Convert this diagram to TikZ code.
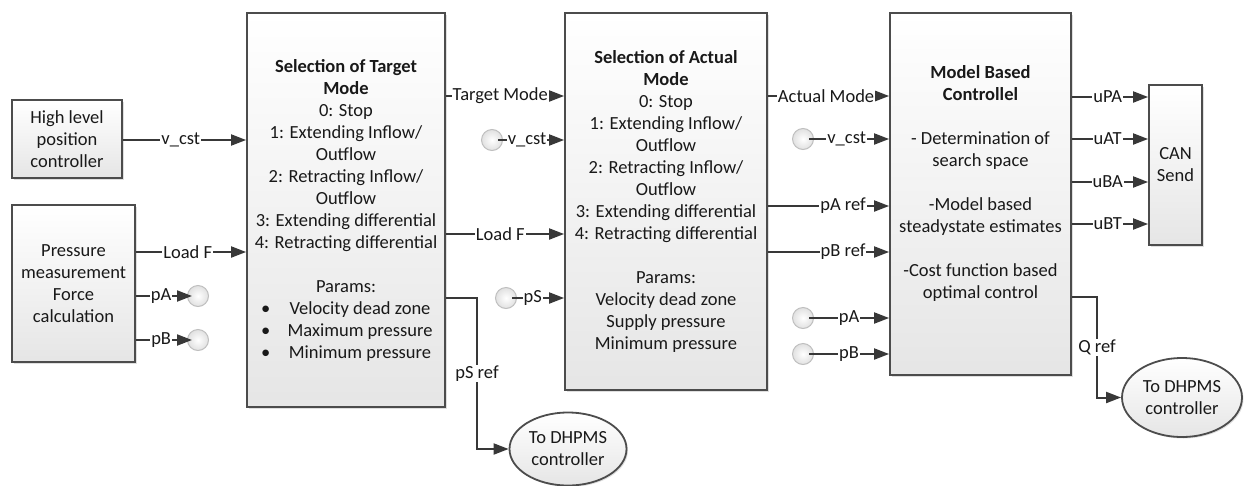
\documentclass[tikz,border=0pt]{standalone}
\usepackage{fontspec}
\setmainfont{Carlito}
\usetikzlibrary{arrows.meta,shapes.geometric,shadows}

% one bullet line of a parameter list: bullet flush left, text centred
\newcommand\bulletline[1]{\makebox[170pt][l]{\makebox[28pt][l]{\textbullet}\makebox[142pt]{#1}}}

\begin{document}
\begin{tikzpicture}[x=1pt,y=-1pt,
  every node/.style={font=\fontsize{18.5}{22}\selectfont, text=black!90},
  block/.style={draw=black!70, line width=1.8pt, top color=white, bottom color=black!10,
    drop shadow={shadow xshift=1.5pt, shadow yshift=-1.5pt, opacity=0.25},
    rectangle, align=center, inner sep=0pt},
  terminal/.style={ellipse, draw=black!70, line width=1.8pt, top color=white, bottom color=black!10,
    drop shadow={shadow xshift=1.5pt, shadow yshift=-1.5pt, opacity=0.25},
    align=center, inner sep=0pt},
  port/.style={circle, draw=black!25, line width=1pt, inner color=white, outer color=black!12,
    minimum size=21pt, inner sep=0pt},
  conn/.style={draw=black!78, line width=2pt, -{Triangle[length=15pt,width=11pt]}},
  lbl/.style={fill=white, inner sep=1pt},
]
\useasboundingbox (0,0) rectangle (1244,485);

% ---- blocks ----
\node[block, minimum width=110pt, minimum height=78pt] (hl) at (67,139)
  {High level\\position\\controller};
\node[block, minimum width=123pt, minimum height=157pt] (pm) at (73.5,283.5)
  {Pressure\\measurement\\Force\\calculation};
\node[block, minimum width=198pt, minimum height=394pt] (tgt) at (346,210)
  {\textbf{Selection of Target}\\\textbf{Mode}\\0: Stop\\1: Extending Inflow/\\Outflow\\
   2: Retracting Inflow/\\Outflow\\3: Extending differential\\4: Retracting differential\\[22pt]
   Params:\\\bulletline{Velocity dead zone}\\\bulletline{Maximum pressure}\\\bulletline{Minimum pressure}};
\node[block, minimum width=202pt, minimum height=377pt] (act) at (666,201.5)
  {\textbf{Selection of Actual}\\\textbf{Mode}\\0: Stop\\1: Extending Inflow/\\Outflow\\
   2: Retracting Inflow/\\Outflow\\3: Extending differential\\4: Retracting differential\\[22pt]
   Params:\\Velocity dead zone\\Supply pressure\\Minimum pressure};
\node[block, minimum width=181pt, minimum height=362pt] (mbc) at (980.5,194) {};
\node[align=center] (mbctxt) at (980.5,183)
  {\textbf{Model Based}\\\textbf{Controllel}\\[22pt]- Determination of\\search space\\[22pt]
   -Model based\\steadystate estimates\\[22pt]-Cost function based\\optimal control};
\node[block, minimum width=53pt, minimum height=160pt] (can) at (1175.5,165) {CAN\\Send};

\node[terminal, minimum width=117pt, minimum height=73pt] (e1) at (568,449) {To DHPMS\\controller};
\node[terminal, minimum width=120pt, minimum height=79pt] (e2) at (1182,397.5) {To DHPMS\\controller};

% ---- signal ports ----
\node[port] (cpA)  at (198,296) {};
\node[port] (cpB)  at (198,340) {};
\node[port] (cvc1) at (492,140) {};
\node[port] (cpS)  at (506,298) {};
\node[port] (cvc2) at (803,139) {};
\node[port] (cpA2) at (803,318) {};
\node[port] (cpB2) at (803,354) {};

\coordinate (psb) at (477,449);
\coordinate (qb)  at (1097,397.5);

% ---- connectors ----
\draw[conn] (hl.east |- 0,140) -- node[lbl,pos=0.47]{v\_cst} (tgt.west |- 0,140);
\draw[conn] (pm.east |- 0,252) -- node[lbl,pos=0.47]{Load F} (tgt.west |- 0,252);
\draw[conn] (pm.east |- cpA) -- node[lbl,pos=0.45]{pA} ([xshift=5pt]cpA.west);
\draw[conn] (pm.east |- cpB) -- node[lbl,pos=0.45]{pB} ([xshift=5pt]cpB.west);

\draw[conn] (tgt.east |- 0,96) -- node[lbl,pos=0.46]{Target Mode} (act.west |- 0,96);
\draw[conn] ([xshift=-5pt]cvc1.east) -- node[lbl,pos=0.44]{v\_cst} (act.west |- cvc1);
\draw[conn] (tgt.east |- 0,234) -- node[lbl,pos=0.46]{Load F} (act.west |- 0,234);
\draw[conn] ([xshift=-5pt]cpS.east) -- node[lbl,pos=0.4]{pS} (act.west |- cpS);
\draw[conn] (tgt.east |- cpS) -| node[lbl,pos=0.75]{pS ref} (psb) -- (e1.west);

\draw[conn] (act.east |- 0,96) -- node[lbl,pos=0.48]{Actual Mode} (mbc.west |- 0,96);
\draw[conn] ([xshift=-5pt]cvc2.east) -- node[lbl,pos=0.47]{v\_cst} (mbc.west |- cvc2);
\draw[conn] (act.east |- 0,206) -- node[lbl,pos=0.62]{pA ref} (mbc.west |- 0,206);
\draw[conn] (act.east |- 0,252) -- node[lbl,pos=0.62]{pB ref} (mbc.west |- 0,252);
\draw[conn] ([xshift=-5pt]cpA2.east) -- node[lbl,pos=0.5]{pA} (mbc.west |- cpA2);
\draw[conn] ([xshift=-5pt]cpB2.east) -- node[lbl,pos=0.5]{pB} (mbc.west |- cpB2);

\draw[conn] (mbc.east |- 0,97)  -- node[lbl,pos=0.47]{uPA} (can.west |- 0,97);
\draw[conn] (mbc.east |- 0,139) -- node[lbl,pos=0.47]{uAT} (can.west |- 0,139);
\draw[conn] (mbc.east |- 0,182) -- node[lbl,pos=0.47]{uBA} (can.west |- 0,182);
\draw[conn] (mbc.east |- 0,224) -- node[lbl,pos=0.47]{uBT} (can.west |- 0,224);
\draw[conn] (mbc.east |- 0,297) -| node[lbl,pos=0.75]{Q ref} (qb) -- (e2.west);
\end{tikzpicture}
\end{document}
